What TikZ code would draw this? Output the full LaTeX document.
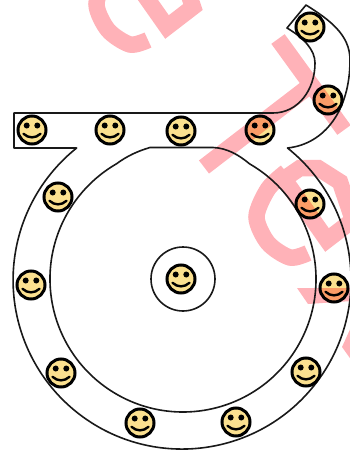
\documentclass[tikz,border=0pt]{standalone}
\usepackage{tikz}
\definecolor{facey}{RGB}{251,224,143}
\definecolor{markpink}{RGB}{255,178,184}
\tikzset{
    track/.style={draw=black!90, line width=1.6pt, line join=round},
    markline/.style={draw=markpink, line width=16.5pt, line join=miter, blend mode=multiply},
    markfill/.style={fill=markpink, blend mode=multiply},
    pics/smiley/.style={code={
        \draw[fill=facey, line width=3pt] (0,0) circle (14);
        \fill (-5.3,-4.5) circle (3) (5.3,-4.5) circle (3);
        \draw[line width=2.4pt, line cap=round] (-8.5,3.8) .. controls (-3.5,8.5) and (3.5,8.5) .. (8.5,3.8);
    }}
}
\begin{document}
\begin{tikzpicture}[x=1pt, y=-1pt]
    \useasboundingbox (0,0) rectangle (350,450);
    % marks
    \foreach \sx/\sy in {0/0,-160/-213}
        \draw[markline, shift={(\sx,\sy)}] plot[smooth] coordinates {(286,172) (268,189) (256.5,217) (268,243) (290,257.5) (308,253)}
            (284,179) -- (327,240) -- (353,220) -- (340,182) -- (318,168) -- (300,168) -- cycle;
    \draw[markline] (278,39) -- (344,130) (312,84) -- (204,167);
    \fill[markfill] (297,288) -- (352,288) -- (352,301) -- (308,304) -- cycle;
    \fill[markfill] (342,347) -- (352,325) -- (352,361) -- cycle;
    % outlines
    \draw[track] (14,113) -- (273,113) .. controls (298,113) and (315,90) .. (315,63)
        .. controls (315,50) and (304,38) .. (287,28) -- (306,5)
        .. controls (330,20) and (350,35) .. (350,60)
        .. controls (350,110) and (325,144) .. (287.5,148)
        arc[start angle=-51.4, end angle=231.4, radius=169]
        -- (14,148) -- cycle;
    \draw[track] (183,279) circle (32);
    \draw[track] (150,147.5) -- (213,147.5) .. controls (227,148) and (239,155) .. (249.5,163.8)
        arc[start angle=-60, end angle=240, radius=133]
        .. controls (127,156) and (138,151) .. (150,147.5);
    % faces
    \foreach \fx/\fy [count=\fn] in {32/130,110/130,181/131,260/130,328/100,310/27,58/197,31/285,61/373,140/423,236/422,306/372,334/288,310/204,181/279}
        \pic[blend mode=multiply] (face\fn) at (\fx,\fy) {smiley};
\end{tikzpicture}
\end{document}
